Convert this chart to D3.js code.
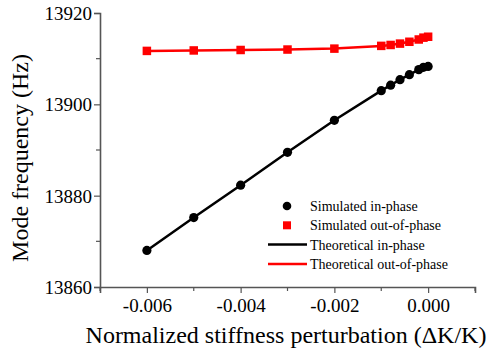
<!DOCTYPE html>
<html>
<head>
<meta charset="utf-8">
<script src="https://cdn.jsdelivr.net/npm/d3@7"></script>
<style>
  body { margin: 0; background: #fff; }
  text { font-family: "Liberation Serif", "Times New Roman", serif; }
</style>
</head>
<body>
<div id="wrapper"></div>
<script>
// data
const simX = [-0.006, -0.005, -0.004, -0.003, -0.002, -0.001, -0.0008, -0.0006, -0.0004, -0.0002, -0.0001, 0]
const simIn = [13868.0, 13875.2, 13882.3, 13889.5, 13896.5, 13903.0, 13904.2, 13905.4, 13906.5, 13907.6, 13908.1, 13908.3]
const simOut = [13911.7, 13911.8, 13911.9, 13912.0, 13912.2, 13912.8, 13913.0, 13913.3, 13913.7, 13914.2, 13914.6, 13914.8]
const theoX = [-0.006, -0.005, -0.004, -0.003, -0.002, -0.001, -0.0008, -0.0006, -0.0004, -0.0002, -0.0001, 0]
const theoIn = [13868.0, 13875.2, 13882.3, 13889.5, 13896.5, 13903.0, 13904.2, 13905.4, 13906.5, 13907.6, 13908.1, 13908.3]
const theoOut = [13911.7, 13911.8, 13911.9, 13912.0, 13912.2, 13912.8, 13913.0, 13913.3, 13913.7, 13914.2, 13914.6, 13914.8]
const xTicks = [-0.006, -0.004, -0.002, 0.000]
const xMinor = [-0.007, -0.005, -0.003, -0.001, 0.001]
const yTicks = [13860, 13880, 13900, 13920]
const yMinor = [13870, 13890, 13910]
const legendLabels = ["Simulated in-phase", "Simulated out-of-phase", "Theoretical in-phase", "Theoretical out-of-phase"]

let dimensions = {
  width: 489,
  height: 352,
  margin: { top: 13, right: 14, bottom: 65, left: 100 },
}
dimensions.boundedWidth = dimensions.width - dimensions.margin.left - dimensions.margin.right
dimensions.boundedHeight = dimensions.height - dimensions.margin.top - dimensions.margin.bottom

const wrapper = d3.select("#wrapper")
  .append("svg")
  .attr("width", dimensions.width)
  .attr("height", dimensions.height)

const bounds = wrapper.append("g")
  .attr("transform", `translate(${dimensions.margin.left},${dimensions.margin.top})`)

const xScaler = d3.scaleLinear()
  .domain([-0.007, 0.001])
  .range([0, dimensions.boundedWidth])

const yScaler = d3.scaleLinear()
  .domain([13860, 13920])
  .range([dimensions.boundedHeight, 0])

const axisColor = "#555"

// axes
const xAxisGen = d3.axisBottom(xScaler).tickValues(xTicks).tickFormat(d3.format(".3f")).tickSizeOuter(0).tickSize(6).tickPadding(6)
const yAxisGen = d3.axisLeft(yScaler).tickValues(yTicks).tickFormat(d3.format("d")).tickSizeOuter(0).tickSize(6).tickPadding(2)

const axisX = bounds.append("g").attr("transform", `translate(0,${dimensions.boundedHeight})`).call(xAxisGen)
const axisY = bounds.append("g").call(yAxisGen)

axisX.selectAll(".tick text").text(d => d3.format(".3f")(d).replace("−", "-"))

;[axisX, axisY].forEach(ax => {
  ax.select(".domain").attr("stroke", axisColor).attr("stroke-width", 1.6)
  ax.selectAll(".tick line").attr("stroke", axisColor).attr("stroke-width", 1.2)
  ax.selectAll(".tick text")
    .attr("fill", "#000")
    .attr("font-family", "Liberation Serif")
    .attr("font-size", "19px")
})
axisY.selectAll(".tick text").attr("dy", "0.34em")

// minor ticks
bounds.append("g").selectAll("line")
  .data(xMinor)
  .join("line")
  .attr("x1", d => xScaler(d))
  .attr("x2", d => xScaler(d))
  .attr("y1", dimensions.boundedHeight)
  .attr("y2", dimensions.boundedHeight + 4)
  .attr("stroke", axisColor)
  .attr("stroke-width", 1.2)

bounds.append("g").selectAll("line")
  .data(yMinor)
  .join("line")
  .attr("x1", 0)
  .attr("x2", -4)
  .attr("y1", d => yScaler(d))
  .attr("y2", d => yScaler(d))
  .attr("stroke", axisColor)
  .attr("stroke-width", 1.2)

// theoretical lines
const lineGen = vals => d3.line()
  .x((d, i) => xScaler(theoX[i]))
  .y(d => yScaler(d))(vals)

bounds.append("path")
  .attr("d", lineGen(theoIn))
  .attr("fill", "none")
  .attr("stroke", "#000")
  .attr("stroke-width", 2.5)

bounds.append("path")
  .attr("d", lineGen(theoOut))
  .attr("fill", "none")
  .attr("stroke", "#ff0000")
  .attr("stroke-width", 2.5)

// simulated markers
bounds.append("g").selectAll("circle")
  .data(simIn)
  .join("circle")
  .attr("cx", (d, i) => xScaler(simX[i]))
  .attr("cy", d => yScaler(d))
  .attr("r", 4.6)
  .attr("fill", "#000")

const sq = 8.5
bounds.append("g").selectAll("rect")
  .data(simOut)
  .join("rect")
  .attr("x", (d, i) => xScaler(simX[i]) - sq / 2)
  .attr("y", d => yScaler(d) - sq / 2)
  .attr("width", sq)
  .attr("height", sq)
  .attr("fill", "#ff0000")

// legend
const legend = wrapper.append("g").attr("transform", "translate(268,206)")
const rowH = 19.3
legend.append("circle").attr("cx", 19).attr("cy", 0).attr("r", 4.3).attr("fill", "#000")
legend.append("rect").attr("x", 15).attr("y", rowH - 4).attr("width", 8).attr("height", 8).attr("fill", "#ff0000")
legend.append("line").attr("x1", 0).attr("x2", 39).attr("y1", rowH * 2).attr("y2", rowH * 2).attr("stroke", "#000").attr("stroke-width", 2.5)
legend.append("line").attr("x1", 0).attr("x2", 39).attr("y1", rowH * 3).attr("y2", rowH * 3).attr("stroke", "#ff0000").attr("stroke-width", 2.5)
legend.selectAll("text")
  .data(legendLabels)
  .join("text")
  .attr("x", 42)
  .attr("y", (d, i) => i * rowH)
  .attr("dy", "0.35em")
  .attr("font-size", "14px")
  .attr("fill", "#000")
  .text(d => d)

// axis titles
wrapper.append("text")
  .attr("x", 286)
  .attr("y", 343)
  .attr("text-anchor", "middle")
  .attr("font-size", "24px")
  .attr("fill", "#000")
  .text("Normalized stiffness perturbation (\u0394K/K)")

wrapper.append("text")
  .attr("transform", "translate(28,158) rotate(-90)")
  .attr("text-anchor", "middle")
  .attr("font-size", "24px")
  .attr("fill", "#000")
  .text("Mode frequency (Hz)")
</script>
</body>
</html>
